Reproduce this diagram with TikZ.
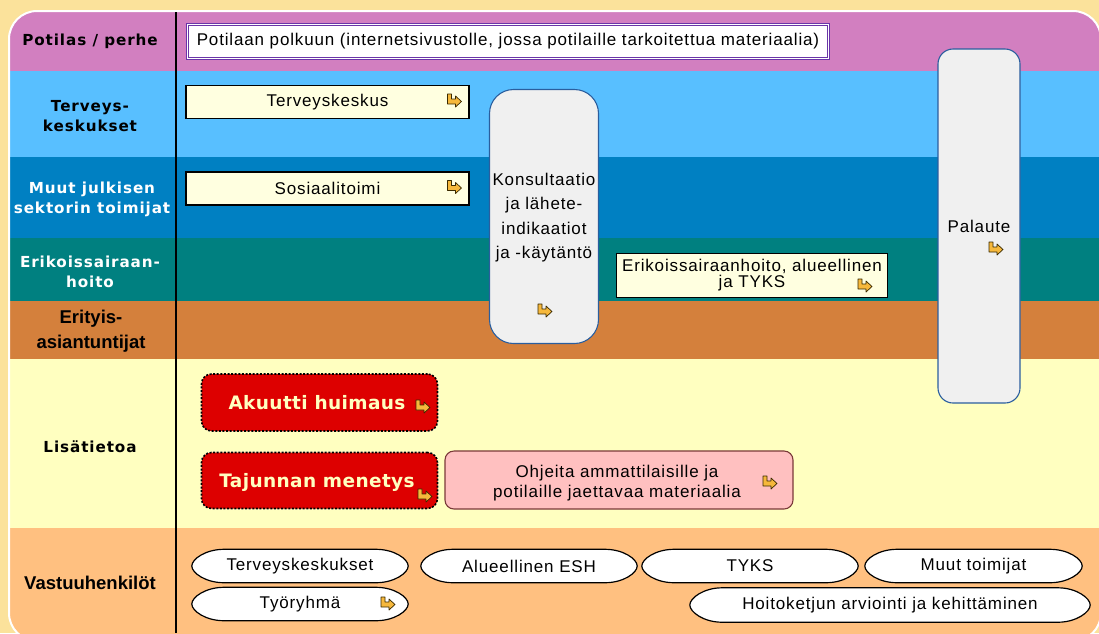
\documentclass[tikz,border=0pt]{standalone}
\usepackage{fontspec}
\setmainfont{Liberation Sans}
\newfontfamily\labfont[LetterSpace=6]{DejaVu Sans}
\newfontfamily\boxfont[LetterSpace=5]{Liberation Sans}
\newfontfamily\redfont[LetterSpace=2]{DejaVu Sans}
\newfontfamily\arbfont{Liberation Sans}
\usetikzlibrary{calc}
\definecolor{bgc}{HTML}{FBE29B}
\definecolor{laneA}{HTML}{D27FC0}
\definecolor{laneB}{HTML}{58BFFF}
\definecolor{laneC}{HTML}{0080C2}
\definecolor{laneD}{HTML}{008080}
\definecolor{laneE}{HTML}{D4803C}
\definecolor{laneF}{HTML}{FFFFC0}
\definecolor{laneG}{HTML}{FFC080}
\definecolor{boxyel}{HTML}{FFFFE0}
\definecolor{purp}{HTML}{6A35A8}
\definecolor{greyfill}{HTML}{F0F0F0}
\definecolor{blueline}{HTML}{2A5E9E}
\definecolor{redc}{HTML}{DD0000}
\definecolor{redtxt}{HTML}{FFFFC0}
\definecolor{pinkc}{HTML}{FFC0C0}
\definecolor{pinkline}{HTML}{7A3A3A}
\definecolor{iconc}{HTML}{F6B83C}
\definecolor{icond}{HTML}{3A2A00}
\newcommand\lbf{\labfont\bfseries\fontsize{15.2}{20}\selectfont}
\newcommand\abf{\arbfont\bfseries\fontsize{18.5}{25}\selectfont}
\newcommand\bxf{\boxfont\fontsize{17}{24.5}\selectfont}
\newcommand\rdf{\redfont\bfseries\fontsize{18.5}{20}\selectfont}
\pgfdeclarelayer{lanes}
\pgfdeclarelayer{ovals}
\pgfsetlayers{lanes,ovals,main}
\begin{document}
\begin{tikzpicture}[x=1pt,y=-1pt,
  lab/.style={inner sep=0, align=center, font=\lbf},
  labar/.style={inner sep=0, align=center, font=\abf},
  ybox/.style={draw=black, line width=1.3, fill=boxyel, inner sep=0, font=\bxf, align=center},
  gbox/.style={draw=blueline, line width=1.1, fill=greyfill, inner sep=0, font=\bxf, align=center},
  redbox/.style={fill=redc, rounded corners=10, inner sep=0, font=\rdf, text=redtxt,
     preaction={draw=white, line width=1.6},
     draw=black, line width=1.6, dash pattern=on 2pt off 1.6pt},
  ovbox/.style={inner sep=0, minimum width=216, minimum height=33, font=\bxf},
  ovline/.style={draw=black, line width=1.2, fill=white},
  linkicon/.pic={\draw[fill=iconc, draw=icond, line width=0.7, line join=round]
     (-7,-6) -- (-3,-6) -- (-3,-1) -- (1,-1) -- (1,-4) -- (7,1.5) -- (1,7) -- (1,4) -- (-7,4) -- cycle;}
]
\useasboundingbox (0,0) rectangle (1099,633);
\clip (0,0) rectangle (1099,633);
\begin{pgfonlayer}{lanes}
\fill[bgc] (0,0) rectangle (1099,633);
\begin{scope}
\clip[rounded corners=28] (9,11) rectangle (1101,641);
\fill[laneA] (0,0) rectangle (1110,70.5);
\fill[laneB] (0,70.5) rectangle (1110,157);
\fill[laneC] (0,157) rectangle (1110,237.5);
\fill[laneD] (0,237.5) rectangle (1110,301);
\fill[laneE] (0,301) rectangle (1110,359);
\fill[laneF] (0,359) rectangle (1110,527.5);
\fill[laneG] (0,527.5) rectangle (1110,650);
\end{scope}
\draw[white, line width=2, rounded corners=28] (9,11) rectangle (1101,641);
\draw[black, line width=1.4] (176,12) -- (176,633);
\end{pgfonlayer}

% lane labels
\node[lab] (l1) at (90,41) {Potilas / perhe};
\node[lab] (l2) at (90,116) {Terveys-\\keskukset};
\node[lab, text=white] (l3) at (92,199) {Muut julkisen\\sektorin toimijat};
\node[lab, text=white] (l4) at (90,272) {Erikoissairaan-\\hoito};
\node[labar] (l5) at (91,331.5) {Erityis-\\asiantuntijat};
\node[lab] (l6) at (90,447) {Lisätietoa};
\node[labar] (l7) at (90,583) {Vastuuhenkilöt};

% boxes
\node[draw=purp, double=white, double distance=1.4pt, line width=0.9pt, fill=white,
      minimum width=641, minimum height=34, inner sep=0, font=\bxf] (pot) at (508,41.5)
  {Potilaan polkuun (internetsivustolle, jossa potilaille tarkoitettua materiaalia)};
\node[ybox, minimum width=283, minimum height=33] (tk) at (327.5,102) {Terveyskeskus};
\pic at (454.5,100) {linkicon};
\node[ybox, minimum width=283, minimum height=33] (sos) at (327.5,188.5) {Sosiaalitoimi};
\pic at (454.5,186.5) {linkicon};
\node[gbox, rounded corners=24, minimum width=109, minimum height=254] (kons) at (544,216.5) {};
\node[inner sep=0, align=center, font=\bxf] (konst) at (544,217.5)
  {Konsultaatio\\ja lähete-\\indikaatiot\\ja -käytäntö};
\pic at (545,310) {linkicon};
\node[ybox, minimum width=271, minimum height=44, font=\boxfont\fontsize{17}{16}\selectfont] (esh) at (752,275.5)
  {Erikoissairaanhoito, alueellinen\\ja TYKS};
\pic at (865,285) {linkicon};
\node[gbox, rounded corners=15, minimum width=82, minimum height=354] (pal) at (979,226) {};
\node[inner sep=0, font=\bxf] (palt) at (979,226) {Palaute};
\pic at (996,248) {linkicon};

\node[redbox, minimum width=236, minimum height=57] (aku) at (319.5,402.5) {};
\node[inner sep=0, font=\rdf, text=redtxt] (akut) at (317,403) {Akuutti huimaus};
\pic at (423,406) {linkicon};
\node[redbox, minimum width=236, minimum height=56] (taj) at (319.5,480.5) {};
\node[inner sep=0, font=\rdf, text=redtxt] (tajt) at (317,482) {Tajunnan menetys};
\pic at (425,495) {linkicon};
\node[draw=pinkline, line width=1.1, fill=pinkc, rounded corners=9, minimum width=348, minimum height=58] (ohj) at (619,480) {};
\node[inner sep=0, align=center, font=\boxfont\fontsize{17}{20}\selectfont] (ohjt) at (617,483)
  {Ohjeita ammattilaisille ja\\potilaille jaettavaa materiaalia};
\pic at (770,482) {linkicon};

% responsibility ovals
\node[ovbox] (ov1) at (300,566) {Terveyskeskukset};
\node[ovbox] (ov2) at (529,566) {Alueellinen ESH};
\node[ovbox] (ov3) at (750,566) {TYKS};
\node[ovbox, minimum width=217] (ov4) at (973.5,566) {Muut toimijat};
\node[ovbox] (ov5) at (300,604) {Työryhmä};
\pic at (388,603) {linkicon};
\node[ovbox, minimum width=400, minimum height=34] (ov6) at (890,605) {Hoitoketjun arviointi ja kehittäminen};

\begin{pgfonlayer}{ovals}
\foreach \n in {ov1,ov2,ov3,ov4,ov5,ov6}{
  \draw[ovline] (\n.west) .. controls ([yshift=7pt]\n.west) and ([xshift=14pt]\n.north west) .. ([xshift=32pt]\n.north west)
    -- ([xshift=-32pt]\n.north east) .. controls ([xshift=-14pt]\n.north east) and ([yshift=7pt]\n.east) .. (\n.east)
    .. controls ([yshift=-7pt]\n.east) and ([xshift=-14pt]\n.south east) .. ([xshift=-32pt]\n.south east)
    -- ([xshift=32pt]\n.south west) .. controls ([xshift=14pt]\n.south west) and ([yshift=-7pt]\n.west) .. cycle;
}
\end{pgfonlayer}
\end{tikzpicture}
\end{document}
